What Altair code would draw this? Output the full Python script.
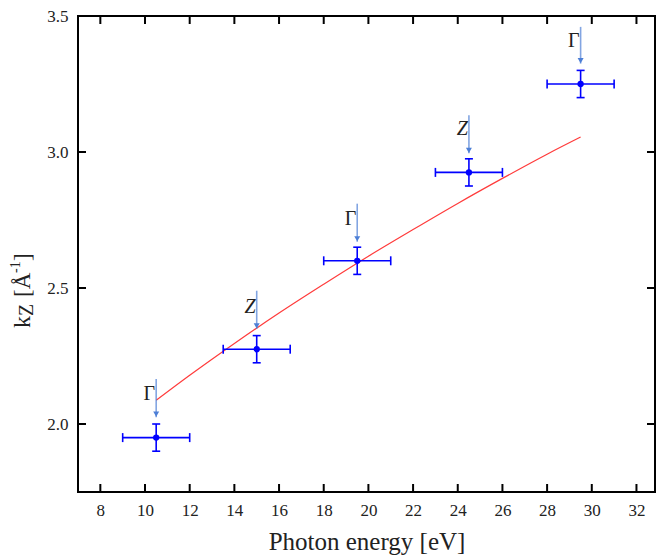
import altair as alt
import pandas as pd

# ---- data ----
hv = [10.5, 15.0, 19.5, 24.5, 29.5]
kz = [1.95, 2.275, 2.60, 2.925, 3.25]
hv_err = [1.5, 1.5, 1.5, 1.5, 1.5]
kz_err = [0.05, 0.05, 0.05, 0.05, 0.05]
point_labels = ["Γ", "Z", "Γ", "Z", "Γ"]
arrow_top = [2.165, 2.49, 2.81, 3.135, 3.46]
arrow_tip = [2.025, 2.35, 2.67, 2.995, 3.325]
label_y = [2.11, 2.43, 2.755, 3.083, 3.408]

fit_hv = [10.5, 12, 14, 16, 18, 20, 22, 24, 26, 28, 29.5]
fit_kz = [2.087, 2.179, 2.296, 2.408, 2.514, 2.617, 2.715, 2.811, 2.903, 2.992, 3.055]

x_ticks = [8, 10, 12, 14, 16, 18, 20, 22, 24, 26, 28, 30, 32]
y_ticks = [2.0, 2.5, 3.0, 3.5]

# ---- tables ----
pts = pd.DataFrame({
    "hv": hv, "kz": kz,
    "hv_lo": [a - b for a, b in zip(hv, hv_err)],
    "hv_hi": [a + b for a, b in zip(hv, hv_err)],
    "kz_lo": [a - b for a, b in zip(kz, kz_err)],
    "kz_hi": [a + b for a, b in zip(kz, kz_err)],
    "lab": point_labels, "top": arrow_top, "tip": arrow_tip, "ly": label_y,
})
fit = pd.DataFrame({"hv": fit_hv, "kz": fit_kz})
xt = pd.DataFrame({"v": x_ticks})
yt = pd.DataFrame({"v": y_ticks})

W, H = 577, 476
FONT = "'Liberation Serif', 'Times New Roman', Times, serif"
BLUE = "#0000ff"
ARROW = "#4d7fd6"

xs = alt.Scale(domain=[7, 32.83], nice=False, zero=False)
ys = alt.Scale(domain=[1.75, 3.5], nice=False, zero=False)
xaxis = alt.Axis(values=x_ticks, format="d", ticks=False, tickSize=0, domain=False, grid=False,
                 labelFont=FONT, labelFontSize=17, labelColor="#222", labelPadding=10,
                 title="Photon energy [eV]", titleFont=FONT, titleFontSize=25,
                 titleFontWeight="normal", titleColor="#222", titlePadding=11)
yaxis = alt.Axis(values=y_ticks, format=".1f", ticks=False, tickSize=0, domain=False, grid=False,
                 labelFont=FONT, labelFontSize=17, labelColor="#222", labelPadding=10,
                 title=None)


def X(f):
    return alt.X(f, type="quantitative", scale=xs, axis=xaxis)


def Y(f):
    return alt.Y(f, type="quantitative", scale=ys, axis=yaxis)


base = alt.Chart(pts)

fit_line = alt.Chart(fit).mark_line(color="#ff3b3b", strokeWidth=1.2,
                                    interpolate="monotone").encode(x=X("hv"), y=Y("kz"))

EW = 1.6
xbar = base.mark_rule(color=BLUE, strokeWidth=EW).encode(
    x=X("hv_lo"), x2="hv_hi", y=Y("kz"))
ybar = base.mark_rule(color=BLUE, strokeWidth=EW).encode(
    x=X("hv"), y=Y("kz_lo"), y2="kz_hi")
xcap_lo = base.mark_tick(orient="vertical", size=9, thickness=EW, color=BLUE, opacity=1).encode(
    x=X("hv_lo"), y=Y("kz"))
xcap_hi = base.mark_tick(orient="vertical", size=9, thickness=EW, color=BLUE, opacity=1).encode(
    x=X("hv_hi"), y=Y("kz"))
ycap_lo = base.mark_tick(orient="horizontal", size=8, thickness=EW, color=BLUE, opacity=1).encode(
    x=X("hv"), y=Y("kz_lo"))
ycap_hi = base.mark_tick(orient="horizontal", size=8, thickness=EW, color=BLUE, opacity=1).encode(
    x=X("hv"), y=Y("kz_hi"))
dots = base.mark_point(filled=True, size=40, color=BLUE, opacity=1).encode(
    x=X("hv"), y=Y("kz"))

shaft = base.mark_rule(color=ARROW, strokeWidth=1.6, opacity=0.7).encode(
    x=X("hv"), y=Y("top"), y2="tip")
head = base.mark_point(shape="triangle-down", filled=True, size=36, color=ARROW,
                       opacity=1, yOffset=-3).encode(x=X("hv"), y=Y("tip"))

lab_g = base.transform_filter(alt.datum.lab == "Γ").mark_text(
    font=FONT, fontSize=20, align="right", baseline="middle", dx=-1, color="#222").encode(
    x=X("hv"), y=Y("ly"), text="lab:N")
lab_z = base.transform_filter(alt.datum.lab == "Z").mark_text(
    font=FONT, fontSize=20, fontStyle="italic", align="right", baseline="middle", dx=-1,
    color="#222").encode(x=X("hv"), y=Y("ly"), text="lab:N")

# inward ticks on all four sides
tk = dict(color="black", strokeWidth=2)
tb = alt.Chart(xt).mark_rule(**tk).encode(x=X("v"), y=alt.value(H), y2=alt.value(H - 8))
tt = alt.Chart(xt).mark_rule(**tk).encode(x=X("v"), y=alt.value(0), y2=alt.value(8))
tl = alt.Chart(yt).mark_rule(**tk).encode(y=Y("v"), x=alt.value(0), x2=alt.value(8))
tr = alt.Chart(yt).mark_rule(**tk).encode(y=Y("v"), x=alt.value(W), x2=alt.value(W - 8))

# y-axis title k_Z [Å^-1] built from pieces (rotated)
title_pieces = [
    ("k", 24, -48, 312),
    ("Z", 20, -45, 300),
    ("[Å", 23, -48, 281),
    ("-1", 14, -58, 257),
    ("]", 23, -48, 245),
]
title_layers = []
for txt, fs, px, py in title_pieces:
    title_layers.append(
        alt.Chart(pd.DataFrame({"t": [txt]})).mark_text(
            font=FONT, fontSize=fs, angle=270, align="left", baseline="alphabetic",
            color="#222").encode(x=alt.value(px), y=alt.value(py), text="t:N"))

chart = alt.layer(
    fit_line, xbar, ybar, xcap_lo, xcap_hi, ycap_lo, ycap_hi, dots,
    shaft, head, lab_g, lab_z, tb, tt, tl, tr, *title_layers
).properties(
    width=W, height=H,
    autosize=alt.AutoSizeParams(type="none"),
    padding={"left": 78, "top": 16, "right": 9, "bottom": 65},
    background="white",
).configure(font=FONT).configure_axis(
    labelFont=FONT, titleFont=FONT
).configure_text(font=FONT).configure_view(stroke="black", strokeWidth=2)

chart.save("out.html", embed_options={"renderer": "svg", "actions": False})
